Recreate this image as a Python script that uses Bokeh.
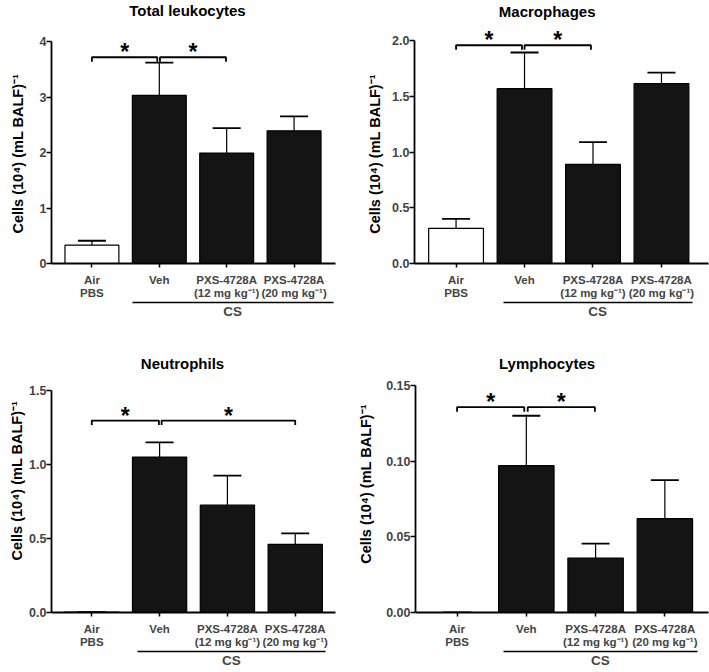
from bokeh.plotting import figure
from bokeh.layouts import column, row
from bokeh.models import (ColumnDataSource, FixedTicker, LinearAxis, Label, Whisker,
                          TeeHead, NumeralTickFormatter, Range1d, Title)
from bokeh.core.properties import value
from bokeh.embed import file_html
from bokeh.resources import INLINE

# ---------------- data ----------------
categories = ["Air\nPBS", "Veh", "PXS-4728A\n(12 mg kg⁻¹)", "PXS-4728A\n(20 mg kg⁻¹)"]
group_label = "CS"
bar_colors = ["white", "#141414", "#141414", "#141414"]
y_label = "Cells (10⁴) (mL BALF)⁻¹"
titles = ["Total leukocytes", "Macrophages", "Neutrophils", "Lymphocytes"]

leuko_mean = [0.33, 3.03, 1.99, 2.39]
leuko_sem = [0.08, 0.59, 0.45, 0.26]
macro_mean = [0.315, 1.57, 0.89, 1.615]
macro_sem = [0.085, 0.325, 0.20, 0.10]
neutro_mean = [0.003, 1.05, 0.725, 0.46]
neutro_sem = [0.0, 0.10, 0.20, 0.075]
lympho_mean = [0.0, 0.097, 0.036, 0.062]
lympho_sem = [0.0, 0.033, 0.0095, 0.0255]

leuko_ticks = [0, 1, 2, 3, 4]
macro_ticks = [0, 0.5, 1.0, 1.5, 2.0]
neutro_ticks = [0, 0.5, 1.0, 1.5]
lympho_ticks = [0, 0.05, 0.10, 0.15]
tick_formats = ["0", "0.0", "0.0", "0.00"]

# significance brackets: (from x, to x, height)
leuko_sig = [(0, 0.97, 3.716), (1.01, 1.99, 3.716)]
macro_sig = [(0, 0.963, 1.96), (1.0, 1.97, 1.96)]
neutro_sig = [(0, 0.99, 1.297), (1.03, 3.0, 1.297)]
lympho_sig = [(0, 0.97, 0.1357), (1.02, 1.99, 0.1357)]

# CS group line extent (x units)
leuko_cs = (0.60, 3.58)
macro_cs = (0.686, 3.45)
neutro_cs = (0.673, 3.446)
lympho_cs = (0.674, 3.465)

# ---------------- layout (page pixels) ----------------
FONT = "Liberation Sans"
COL_X = [0, 346]
COL_W = [346, 363]
ROW_Y = [0, 328]
ROW_H = [328, 344]

geo = [
    dict(r=0, c=0, axis_x=51, x_end=335, y0=262.7, ytop=41.0, xs=-0.6, xe=3.615,
         title_xy=(187, 9.5), ylab_start=233.0, ylab_standoff=18, ylab_valign="top"),
    dict(r=0, c=1, axis_x=414, x_end=708, y0=262.7, ytop=40.3, xs=-0.607, xe=3.687,
         title_xy=(546.7, 10.5), ylab_start=233.3, ylab_standoff=14, ylab_valign="bottom"),
    dict(r=1, c=0, axis_x=51, x_end=335, y0=611.7, ytop=390.0, xs=-0.594, xe=3.594,
         title_xy=(182, 362.5), ylab_start=560.0, ylab_standoff=0, ylab_valign="top"),
    dict(r=1, c=1, axis_x=415, x_end=708, y0=611.7, ytop=385.0, xs=-0.6, xe=3.63,
         title_xy=(546.5, 362.5), ylab_start=563.3, ylab_standoff=15, ylab_valign="top"),
]

panels = [
    (titles[0], leuko_mean, leuko_sem, leuko_ticks, tick_formats[0], leuko_sig, leuko_cs),
    (titles[1], macro_mean, macro_sem, macro_ticks, tick_formats[1], macro_sig, macro_cs),
    (titles[2], neutro_mean, neutro_sem, neutro_ticks, tick_formats[2], neutro_sig, neutro_cs),
    (titles[3], lympho_mean, lympho_sem, lympho_ticks, tick_formats[3], lympho_sig, lympho_cs),
]


def build(i):
    title, mean, sem, ticks, fmt, sig, cs = panels[i]
    g = geo[i]
    r, c = g["r"], g["c"]
    W, H = COL_W[c], ROW_H[r]
    fl = int(round(g["axis_x"] - COL_X[c]))
    mbr = max(0, int(round(W - (g["x_end"] - COL_X[c]))))
    fr = W - mbr
    mbb = int(round(H - (g["y0"] - ROW_Y[r])))
    yb = H - mbb
    ytp = g["ytop"] - ROW_Y[r]
    ymax = ticks[-1]
    ppy = (yb - ytp) / ymax
    y_end = yb / ppy
    ppx = (fr - fl) / (g["xe"] - g["xs"])

    p = figure(width=W, height=H, x_range=Range1d(g["xs"], g["xe"]),
               y_range=Range1d(0, y_end), toolbar_location=None, output_backend="svg",
               min_border_left=fl, min_border_right=mbr, min_border_top=0,
               min_border_bottom=mbb, title=None)
    p.outline_line_color = None
    p.xgrid.visible = False
    p.ygrid.visible = False
    p.background_fill_color = "white"
    p.border_fill_color = "white"

    # y axis
    yax = p.yaxis[0]
    yax.ticker = FixedTicker(ticks=ticks, minor_ticks=[])
    yax.formatter = NumeralTickFormatter(format=fmt)
    yax.bounds = (0, ymax)
    yax.major_label_text_font = FONT
    yax.major_label_text_font_style = "bold"
    yax.major_label_text_font_size = "12.5px"
    yax.major_label_standoff = 0
    yax.major_tick_out = 5
    yax.major_tick_in = 0
    yax.minor_tick_out = 0
    yax.minor_tick_in = 0
    yax.axis_line_width = 1.8
    yax.major_tick_line_width = 1.5

    # y axis label, as a side title anchored along the axis
    ylab_offset = yb - (g["ylab_start"] - ROW_Y[r])
    p.add_layout(Title(text=y_label, align="left", offset=ylab_offset,
                       standoff=g["ylab_standoff"], vertical_align=g["ylab_valign"],
                       text_font=FONT, text_font_style="bold", text_font_size="14.5px",
                       text_color="black"), "left")

    # x axis
    xax = p.xaxis[0]
    xax.ticker = FixedTicker(ticks=list(range(len(categories))), minor_ticks=[])
    xax.major_label_overrides = {k: lab for k, lab in enumerate(categories)}
    xax.major_label_text_font = FONT
    xax.major_label_text_font_style = "bold"
    xax.major_label_text_font_size = "11.5px"
    xax.major_label_text_line_height = 1.15
    xax.major_label_standoff = 6
    xax.major_tick_out = 4
    xax.major_tick_in = 0
    xax.minor_tick_out = 0
    xax.minor_tick_in = 0
    xax.axis_line_width = 1.8
    xax.major_tick_line_width = 1.5

    # CS group axis
    cs_mid = round((cs[0] + cs[1]) / 2, 3)
    cs_axis = LinearAxis(ticker=FixedTicker(ticks=[cs_mid], minor_ticks=[]),
                         major_label_overrides={cs_mid: group_label},
                         bounds=cs, axis_line_width=1.5, axis_line_color="black",
                         major_tick_line_color=None, major_tick_out=0, major_tick_in=0,
                         minor_tick_out=0, minor_tick_in=0, major_label_standoff=1,
                         major_label_text_font=FONT, major_label_text_font_style="bold",
                         major_label_text_font_size="13.5px")
    p.add_layout(cs_axis, "below")

    # bars + error bars
    src = ColumnDataSource(dict(x=list(range(len(categories))), mean=mean,
                                upper=[m + s for m, s in zip(mean, sem)], color=bar_colors))
    p.vbar(x="x", top="mean", width=0.8, fill_color="color", line_color="black",
           line_width=1.2, source=src)
    p.add_layout(Whisker(source=src, base="x", lower="mean", upper="upper",
                         dimension="height", line_color="black", line_width=1.2,
                         upper_head=TeeHead(size=28, line_color="black", line_width=1.8),
                         lower_head=None))

    # brackets + stars
    drop = 4.5 / ppy
    xs = [[a, a, b, b] for a, b, h in sig]
    ys = [[h - drop, h, h, h - drop] for a, b, h in sig]
    p.multi_line(xs, ys, line_color="black", line_width=1.8)
    star_fs = 23
    star_dy = 5.0 / ppy
    p.text(x=[(a + b) / 2 for a, b, h in sig], y=[h + star_dy for a, b, h in sig],
           text=["*"] * len(sig), text_align="center", text_baseline="alphabetic",
           text_font=value(FONT), text_font_style="bold", text_font_size=f"{star_fs}px",
           text_color="black")

    # panel title (inside the top of the frame)
    tx, ty = g["title_xy"]
    t_x = g["xs"] + (tx - COL_X[c] - fl) / ppx
    t_y = y_end - (ty - ROW_Y[r]) / ppy
    p.add_layout(Label(x=t_x, y=t_y, text=title, text_align="center",
                       text_baseline="alphabetic", text_font=FONT,
                       text_font_style="bold", text_font_size="15px", text_color="black"))
    return p


figs = [build(i) for i in range(4)]
layout = column(row(figs[0], figs[1], spacing=0), row(figs[2], figs[3], spacing=0), spacing=0)

with open("out.html", "w") as f:
    f.write(file_html(layout, INLINE))
